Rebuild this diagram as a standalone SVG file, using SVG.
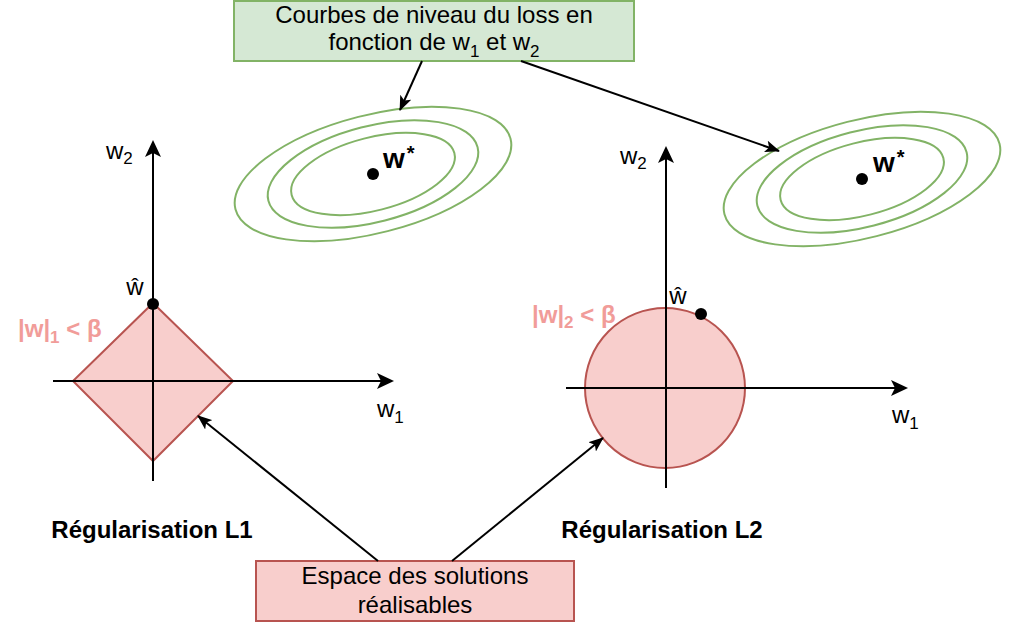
<svg xmlns="http://www.w3.org/2000/svg" width="1016" height="622" viewBox="0 0 1016 622">
<style>
.t{font-family:"Liberation Sans",Arial,sans-serif;font-size:24px;fill:#000}
.b{font-weight:bold}
.ws{font-family:"Liberation Sans",Arial,sans-serif;font-size:28px;font-weight:bold;fill:#000}
.pk{fill:#f19c99;font-weight:bold}
.lvl{fill:none;stroke:#82b366;stroke-width:2}
.ax{fill:none;stroke:#000;stroke-width:2;marker-end:url(#ah)}
.cn{fill:none;stroke:#000;stroke-width:2;marker-end:url(#ac)}
</style>
<defs>
<marker id="ah" viewBox="0 0 17 16" refX="15" refY="8" markerWidth="17" markerHeight="16" markerUnits="userSpaceOnUse" orient="auto">
<path d="M0,0 L17,8 L0,16 L4,8 z" fill="#000"/>
</marker>
<marker id="ac" viewBox="0 0 15 12" refX="14" refY="6" markerWidth="15" markerHeight="12" markerUnits="userSpaceOnUse" orient="auto">
<path d="M0,0 L15,6 L0,12 L3.5,6 z" fill="#000"/>
</marker>
</defs>

<g id="title-box">
<rect x="234" y="1" width="400" height="60" fill="#d5e8d4" stroke="#82b366" stroke-width="2"/>
<text class="t" x="434" y="23" text-anchor="middle">Courbes de niveau du loss en</text>
<text class="t" x="434" y="50" text-anchor="middle">fonction de w<tspan font-size="17" dy="7">1</tspan><tspan dy="-7"> et w</tspan><tspan font-size="17" dy="7">2</tspan></text>
</g>

<g id="contours-left">
<g transform="translate(373,174) rotate(-14.4)">
<ellipse class="lvl" cx="0" cy="0" rx="142" ry="59"/>
<ellipse class="lvl" cx="0" cy="0" rx="108" ry="48"/>
<ellipse class="lvl" cx="0" cy="0" rx="84" ry="36.5"/>
</g>
<circle cx="373" cy="174" r="6" fill="#000"/>
<text class="ws" x="383" y="168">w<tspan font-size="20" dx="2" dy="-8">*</tspan></text>
</g>

<g id="contours-right">
<g transform="translate(862,179) rotate(-14.4)">
<ellipse class="lvl" cx="0" cy="0" rx="142" ry="59"/>
<ellipse class="lvl" cx="0" cy="0" rx="108" ry="48"/>
<ellipse class="lvl" cx="0" cy="0" rx="84" ry="36.5"/>
</g>
<circle cx="862" cy="179" r="6" fill="#000"/>
<text class="ws" x="873" y="172">w<tspan font-size="20" dx="2" dy="-8">*</tspan></text>
</g>

<g id="l1-region">
<polygon points="153,303 233,381 153,461 73,381" fill="#f8cecc" stroke="#b85450" stroke-width="2"/>
</g>
<g id="l1-axes">
<line class="ax" x1="153" y1="481" x2="153" y2="142"/>
<line class="ax" x1="53" y1="381" x2="392" y2="381"/>
<text class="t" x="106" y="159">w<tspan font-size="17" dy="5">2</tspan></text>
<text class="t" x="377" y="417">w<tspan font-size="17" dy="6">1</tspan></text>
</g>
<g id="l1-point">
<circle cx="153" cy="304" r="6" fill="#000"/>
<text class="t" x="135" y="295" text-anchor="middle">ŵ</text>
</g>
<g id="l1-label">
<text class="t pk" x="18" y="337">|w|<tspan font-size="17" dy="6">1</tspan><tspan dy="-6"> &lt; β</tspan></text>
<text class="t b" x="152" y="538" text-anchor="middle">Régularisation L1</text>
</g>

<g id="l2-region">
<circle cx="665" cy="388" r="80" fill="#f8cecc" stroke="#b85450" stroke-width="2"/>
</g>
<g id="l2-axes">
<line class="ax" x1="666" y1="488" x2="666" y2="148"/>
<line class="ax" x1="566" y1="388" x2="906" y2="388"/>
<text class="t" x="620" y="164">w<tspan font-size="17" dy="5">2</tspan></text>
<text class="t" x="892" y="423">w<tspan font-size="17" dy="6">1</tspan></text>
</g>
<g id="l2-point">
<circle cx="701" cy="314" r="6" fill="#000"/>
<text class="t" x="678" y="304" text-anchor="middle">ŵ</text>
</g>
<g id="l2-label">
<text class="t pk" x="532" y="323">|w|<tspan font-size="17" dy="5">2</tspan><tspan dy="-5"> &lt; β</tspan></text>
<text class="t b" x="662" y="538" text-anchor="middle">Régularisation L2</text>
</g>

<g id="feasible-box">
<rect x="256" y="561" width="318" height="60" fill="#f8cecc" stroke="#b85450" stroke-width="2"/>
<text class="t" x="415" y="584" text-anchor="middle">Espace des solutions</text>
<text class="t" x="415" y="613" text-anchor="middle">réalisables</text>
</g>

<g id="connectors">
<line class="cn" x1="422" y1="61" x2="400" y2="110"/>
<line class="cn" x1="521" y1="61" x2="779" y2="151"/>
<line class="cn" x1="378" y1="561" x2="198" y2="416"/>
<line class="cn" x1="452" y1="561" x2="603" y2="438"/>
</g>
</svg>
